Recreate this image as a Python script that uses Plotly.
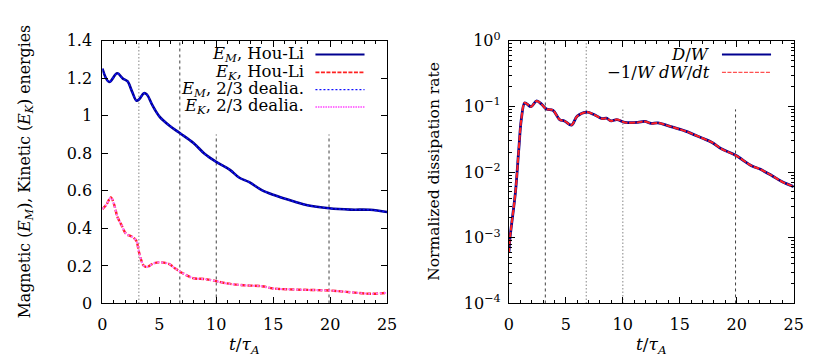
import plotly.graph_objects as go

# ---------------- data ----------------
t_em = [0, 0.6, 1.3, 1.8, 2.2, 2.6, 3.0, 3.25, 3.65, 3.9, 4.4, 5.0, 5.9, 6.8, 8.0, 9.0,
        10.0, 11.2, 12.0, 12.9, 14.0, 15.0, 16.9, 18.0, 19.9, 21.8, 23.5, 25]
em_houli = [1.251, 1.18, 1.226, 1.198, 1.184, 1.13, 1.08, 1.089, 1.12, 1.114, 1.055, 0.997,
            0.947, 0.908, 0.855, 0.796, 0.754, 0.712, 0.671, 0.646, 0.604, 0.579, 0.542,
            0.523, 0.507, 0.500, 0.499, 0.487]
em_dealia = list(em_houli)

t_ek = [0, 0.37, 0.74, 1.03, 1.32, 1.66, 2.1, 2.53, 2.96, 3.24, 3.62, 3.9, 4.4, 4.97, 5.83,
        6.4, 6.98, 7.98, 8.99, 10.0, 10.9, 12.4, 14.0, 15.0, 17.0, 19.9, 21.8, 23.5, 25]
ek_houli = [0.503, 0.528, 0.565, 0.528, 0.462, 0.42, 0.37, 0.358, 0.336, 0.269, 0.202, 0.194,
            0.211, 0.219, 0.211, 0.186, 0.164, 0.135, 0.130, 0.119, 0.107, 0.097, 0.092,
            0.080, 0.074, 0.069, 0.060, 0.052, 0.057]
ek_dealia = list(ek_houli)

t_d = [0, 0.1, 0.58, 0.86, 1.09, 1.38, 1.55, 1.95, 2.44, 2.87, 3.3, 3.88, 4.45, 4.88, 5.5,
       6.0, 6.84, 7.47, 8.2, 8.56, 8.97, 9.48, 10.2, 11.3, 11.93, 12.5, 13.08, 14.08, 15.5,
       16.95, 17.8, 18.7, 19.9, 21.3, 22.1, 23.1, 24.0, 25]
d_over_w = [5.9e-4, 1.0e-3, 5e-3, 0.021, 0.063, 0.113, 0.11, 0.099, 0.121, 0.108, 0.091,
            0.087, 0.063, 0.06, 0.052, 0.071, 0.082, 0.075, 0.065, 0.066, 0.06, 0.063,
            0.057, 0.057, 0.059, 0.055, 0.056, 0.05, 0.042, 0.033, 0.0285, 0.0224, 0.018,
            0.0125, 0.011, 0.0088, 0.0071, 0.006]
dwdt_over_w = list(d_over_w)

vlines = [3.2, 6.8, 10.0, 19.9]

x_ticks = [0, 5, 10, 15, 20, 25]
e_ticks = [0, 0.2, 0.4, 0.6, 0.8, 1.0, 1.2, 1.4]
e_ticktext = ["0", "0.2", "0.4", "0.6", "0.8", "1", "1.2", "1.4"]
d_ticks = [1e-4, 1e-3, 1e-2, 1e-1, 1]
d_ticktext = ["10<sup>\u22124</sup>", "10<sup>\u22123</sup>", "10<sup>\u22122</sup>",
              "10<sup>\u22121</sup>", "10<sup>0</sup>"]

# ---------------- styling ----------------
FONT = "DejaVu Serif"
FS = 16.5
TFS = 16
NAVY = "#000090"
BLUE = "#1010ff"
RED = "#ff2020"
MAG = "#ff70ff"

fig = go.Figure()

# left panel
fig.add_trace(go.Scatter(x=t_em, y=em_houli, mode="lines", line=dict(color=NAVY, width=2.6, shape="spline"),
                         xaxis="x", yaxis="y", showlegend=False))
fig.add_trace(go.Scatter(x=t_em, y=em_dealia, mode="lines", line=dict(color=BLUE, width=1.4, dash="2px,2px", shape="spline"),
                         xaxis="x", yaxis="y", showlegend=False))
fig.add_trace(go.Scatter(x=t_ek, y=ek_houli, mode="lines", line=dict(color=RED, width=2.4, dash="5px,2px", shape="spline"),
                         xaxis="x", yaxis="y", showlegend=False))
fig.add_trace(go.Scatter(x=t_ek, y=ek_dealia, mode="lines", line=dict(color=MAG, width=2.0, dash="2px,2px", shape="spline"),
                         xaxis="x", yaxis="y", showlegend=False))

# right panel
fig.add_trace(go.Scatter(x=t_d, y=d_over_w, mode="lines", line=dict(color=NAVY, width=2.8, shape="spline"),
                         xaxis="x2", yaxis="y2", showlegend=False))
fig.add_trace(go.Scatter(x=t_d, y=dwdt_over_w, mode="lines", line=dict(color=RED, width=2.0, dash="6px,1.5px", shape="spline"),
                         xaxis="x2", yaxis="y2", showlegend=False))

# vertical reference lines
DARK = "#404040"
GREY = "#a8a8a8"
DASH = "3px,3px"
DOT = "1.5px,2px"
left_styles = [(GREY, DOT, 1.4), (DARK, DASH, 1.0), (DARK, DASH, 1.0), (DARK, DASH, 1.0)]
left_tops = [1.4, 1.4, 0.9, 0.9]
right_styles = [(DARK, DASH, 1.0), (GREY, DOT, 1.4), (GREY, DOT, 1.4), (DARK, DASH, 1.0)]
right_tops = [1.0, 1.0, 0.09, 0.09]
for xv, (c, ds, w), top in zip(vlines, left_styles, left_tops):
    fig.add_shape(type="line", xref="x", yref="y", x0=xv, x1=xv, y0=0, y1=top,
                  line=dict(color=c, dash=ds, width=w), layer="below")
for xv, (c, ds, w), top in zip(vlines, right_styles, right_tops):
    fig.add_shape(type="line", xref="x2", yref="y2", x0=xv, x1=xv, y0=1e-4, y1=top,
                  line=dict(color=c, dash=ds, width=w), layer="below")

# axes
L_DOM = [91 / 830, 381 / 830]
R_DOM = [505 / 830, 795 / 830]
Y_DOM = [60 / 362, 339 / 362]

common_x = dict(range=[0, 25], tickvals=x_ticks, ticks="inside", ticklen=6, tickcolor="black",
                mirror="ticks", showline=True, linecolor="black", linewidth=1, showgrid=False,
                zeroline=False, tickfont=dict(family=FONT, size=TFS, color="black"),
                minor=dict(dtick=1, ticks="inside", ticklen=3, tickcolor="black", showgrid=False),
                ticklabelstandoff=6)

fig.update_layout(
    width=830, height=362,
    margin=dict(l=0, r=0, t=0, b=0),
    paper_bgcolor="white", plot_bgcolor="white",
    font=dict(family=FONT, size=FS, color="black"),
    xaxis=dict(domain=L_DOM, anchor="y", **common_x),
    xaxis2=dict(domain=R_DOM, anchor="y2", **common_x),
    yaxis=dict(domain=Y_DOM, anchor="x", range=[0, 1.4], tickvals=e_ticks, ticktext=e_ticktext,
               ticks="inside", ticklen=6, tickcolor="black", mirror="ticks", showline=True,
               linecolor="black", linewidth=1, showgrid=False, zeroline=False,
               tickfont=dict(family=FONT, size=TFS, color="black"), ticklabelstandoff=6),
    yaxis2=dict(domain=Y_DOM, anchor="x2", type="log", range=[-4, 0], tickvals=d_ticks,
                ticktext=d_ticktext, ticks="inside", ticklen=6, tickcolor="black", mirror="ticks",
                showline=True, linecolor="black", linewidth=1, showgrid=False, zeroline=False,
                tickfont=dict(family=FONT, size=TFS, color="black"), ticklabelstandoff=4,
                minor=dict(tickvals=[m * 10 ** e for e in range(-4, 0) for m in range(2, 10)],
                           ticks="inside", ticklen=3, tickcolor="black", showgrid=False)),
)

# axis titles
fig.add_annotation(xref="paper", yref="paper", x=236 / 830, y=(362 - 347) / 362,
                   text="<i>t</i>/<i>\u03c4<sub>A</sub></i>", showarrow=False,
                   font=dict(family=FONT, size=17), xanchor="center", yanchor="middle")
fig.add_annotation(xref="paper", yref="paper", x=650 / 830, y=(362 - 347) / 362,
                   text="<i>t</i>/<i>\u03c4<sub>A</sub></i>", showarrow=False,
                   font=dict(family=FONT, size=17), xanchor="center", yanchor="middle")
fig.add_annotation(xref="paper", yref="paper", x=13 / 830, y=(362 - 162) / 362,
                   text="Magnetic (<i>E<sub>M</sub></i>), Kinetic (<i>E<sub>K</sub></i>) energies",
                   textangle=-90, showarrow=False, font=dict(family=FONT, size=15.8),
                   xanchor="center", yanchor="middle")
fig.add_annotation(xref="paper", yref="paper", x=428 / 830, y=(362 - 162) / 362,
                   text="Normalized dissipation rate",
                   textangle=-90, showarrow=False, font=dict(family=FONT, size=15.5),
                   xanchor="center", yanchor="middle")

# custom legends (text right-aligned, sample line to the right)
left_leg = [("<i>E<sub>M</sub></i>, Hou-Li", NAVY, "solid", 2.2),
            ("<i>E<sub>K</sub></i>, Hou-Li", RED, "4px,1.5px", 1.6),
            ("<i>E<sub>M</sub></i>, 2/3 dealia.", BLUE, "2px,2px", 1.4),
            ("<i>E<sub>K</sub></i>, 2/3 dealia.", MAG, "1.5px,1px", 2.0)]
right_leg = [("<i>D</i>/<i>W</i>", NAVY, "solid", 2.2),
             ("\u22121/<i>W dW</i>/<i>dt</i>", "#ff5050", "4px,1.5px", 1.4)]
rows = [37.7, 56.7, 75.0, 93.3]


def draw_legend(items, text_right, l0, l1):
    for (txt, col, ds, w), yp in zip(items, rows):
        yy = (362 - yp) / 362
        fig.add_annotation(xref="paper", yref="paper", x=text_right / 830, y=yy, text=txt,
                           showarrow=False, xanchor="right", yanchor="middle",
                           font=dict(family=FONT, size=FS))
        fig.add_shape(type="line", xref="paper", yref="paper", x0=l0 / 830, x1=l1 / 830,
                      y0=yy, y1=yy, line=dict(color=col, dash=ds, width=w))


draw_legend(left_leg, 298, 308, 358)
draw_legend(right_leg, 712, 722, 772)

fig.write_html("out.html")
